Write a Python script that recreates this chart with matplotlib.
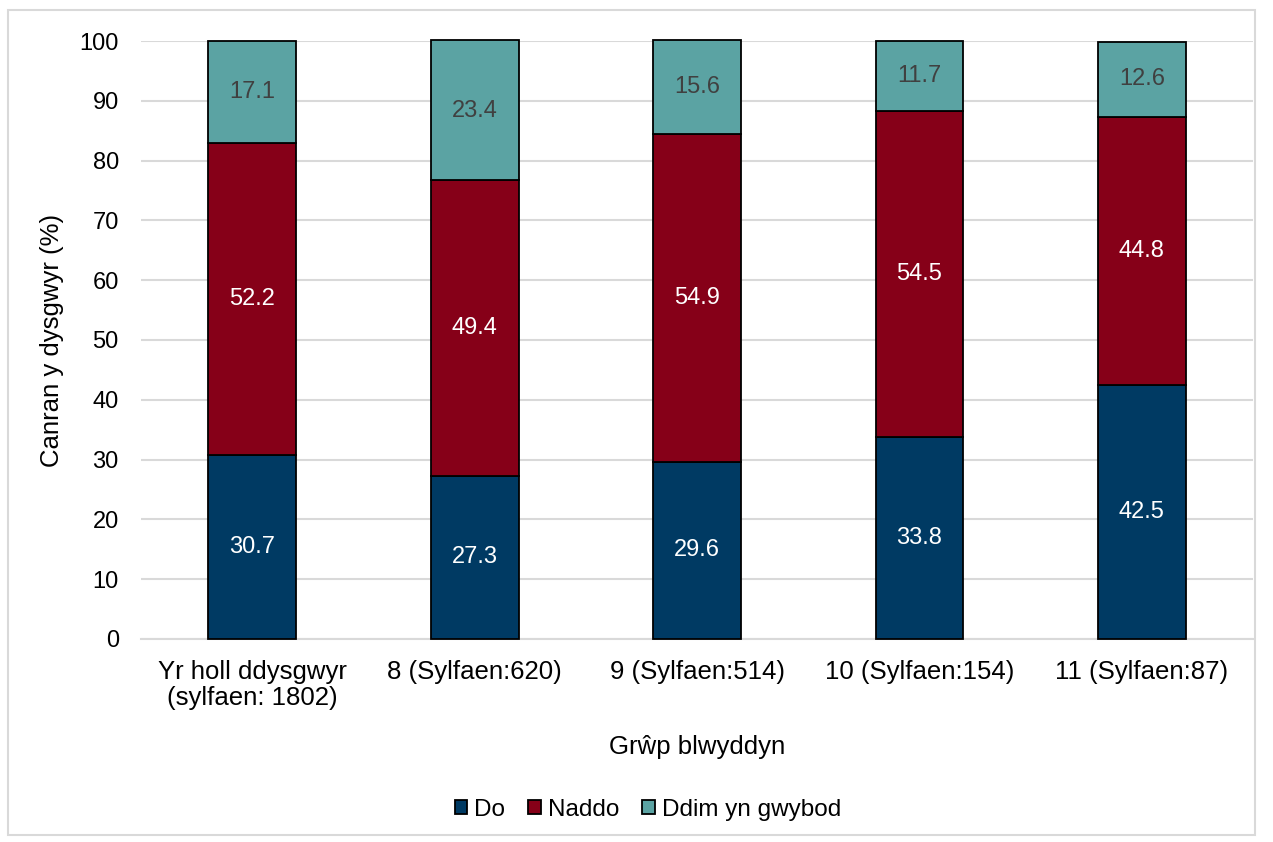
import matplotlib
matplotlib.use("Agg")
import matplotlib.pyplot as plt
from matplotlib.patches import Rectangle
import numpy as np

categories = ["Yr holl ddysgwyr\n(sylfaen: 1802)", "8 (Sylfaen:620)", "9 (Sylfaen:514)",
              "10 (Sylfaen:154)", "11 (Sylfaen:87)"]
do_vals = [30.7, 27.3, 29.6, 33.8, 42.5]
naddo_vals = [52.2, 49.4, 54.9, 54.5, 44.8]
ddim_vals = [17.1, 23.4, 15.6, 11.7, 12.6]
series_names = ["Do", "Naddo", "Ddim yn gwybod"]

plt.rcParams["font.family"] = ["Liberation Sans", "DejaVu Sans"]
fs = 17
fs_txt = 18.5

fig = plt.figure(figsize=(12.73, 8.42), dpi=100)
ax = fig.add_axes([0.1108, 0.2411, 0.8735, 0.7102])

# light frame around the whole chart
fig.patches.append(Rectangle((8 / 1273, 1 - 835 / 842), 1247 / 1273, 825 / 842,
                             transform=fig.transFigure, fill=False,
                             edgecolor="#D9D9D9", linewidth=1.5))

x = np.arange(len(categories))
width = 0.395
colors = ["#003A63", "#860018", "#5BA3A3"]
text_colors = ["white", "white", "#404040"]

bottom = np.zeros(len(categories))
for vals, name, col, tcol in zip([do_vals, naddo_vals, ddim_vals], series_names, colors, text_colors):
    bars = ax.bar(x, vals, width, bottom=bottom, color=col, edgecolor="black",
                  linewidth=1.3, label=name, zorder=3, clip_on=False)
    ax.bar_label(bars, labels=[f"{v:.1f}" for v in vals], label_type="center",
                 color=tcol, fontsize=fs)
    bottom += np.array(vals)

ax.set_xlim(-0.5, len(categories) - 0.5)
ax.set_ylim(0, 100)
ax.set_yticks(range(0, 101, 10))
ax.set_xticks(x)
ax.set_xticklabels(categories, fontsize=fs_txt, linespacing=1.1)
ax.tick_params(axis="y", labelsize=fs, length=0, pad=16)
ax.tick_params(axis="x", length=0, pad=15)
ax.grid(axis="y", color="#D9D9D9", linewidth=1.5, zorder=0)
for s in ["top", "right", "left"]:
    ax.spines[s].set_visible(False)
ax.spines["bottom"].set_color("#D9D9D9")
ax.spines["bottom"].set_linewidth(1.5)

ax.set_ylabel("Canran y dysgwyr (%)", fontsize=fs_txt, labelpad=11)
ax.set_xlabel("Grŵp blwyddyn", fontsize=fs_txt, labelpad=18)

fig.legend(loc="center", bbox_to_anchor=(648 / 1273, 1 - 810 / 842), ncol=3, frameon=False,
           fontsize=17.5, handlelength=0.5, handleheight=0.5, handletextpad=0.3,
           columnspacing=0.95)

fig.savefig("out.png", dpi=100)
